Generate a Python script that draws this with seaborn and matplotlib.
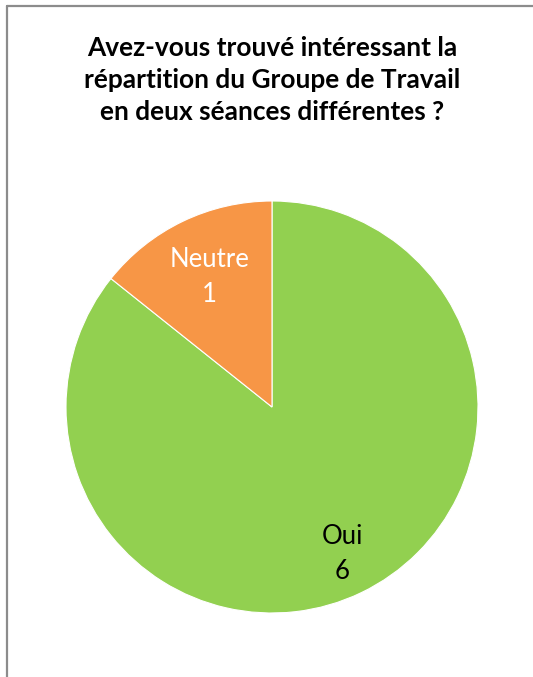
import matplotlib
matplotlib.use("Agg")
import numpy as np
import matplotlib.pyplot as plt
from matplotlib.lines import Line2D
import seaborn as sns

categories = ["Oui", "Neutre"]
values = [6, 1]
colors = ["#92D050", "#F79646"]
label_colors = ["black", "white"]
label_dist = [0.79, 0.70]
title = "Avez-vous trouvé intéressant la\nrépartition du Groupe de Travail\nen deux séances différentes ?"

sns.set_theme(style="white")
plt.rcParams["font.family"] = ["Lato", "DejaVu Sans"]

W, H = 533, 677
fig = plt.figure(figsize=(W / 100, H / 100), dpi=100)
fig.patch.set_facecolor("white")

cx, cy, r = 272, 407, 206
ax = fig.add_axes([(cx - r) / W, (H - cy - r) / H, 2 * r / W, 2 * r / H])
wedges, _ = ax.pie(values, colors=colors, startangle=90,
                   counterclock=False,
                   wedgeprops=dict(edgecolor="white", linewidth=0.8),
                   radius=1)
for w, c, v, col, d in zip(wedges, categories, values, label_colors, label_dist):
    ang = np.deg2rad((w.theta1 + w.theta2) / 2)
    ax.text(d * np.cos(ang), d * np.sin(ang), f"{c}\n{v}", color=col,
            fontsize=18.5, ha="center", va="center", linespacing=1.5)
ax.set_xlim(-1, 1)
ax.set_ylim(-1, 1)
ax.set_aspect("equal")
ax.axis("off")

fig.text(272 / W, 1 - 80 / H, title, ha="center", va="center",
         fontsize=18.9, fontweight="bold", color="black", linespacing=1.42)

# outer frame (top and left edges visible)
lc = "#8C8C8C"
fig.add_artist(Line2D([7 / W, 1.0], [1 - 6 / H, 1 - 6 / H], color=lc, lw=1.6,
                      transform=fig.transFigure))
fig.add_artist(Line2D([7 / W, 7 / W], [1 - 6 / H, 0.0], color=lc, lw=1.6,
                      transform=fig.transFigure))

fig.savefig("out.png", dpi=100)
